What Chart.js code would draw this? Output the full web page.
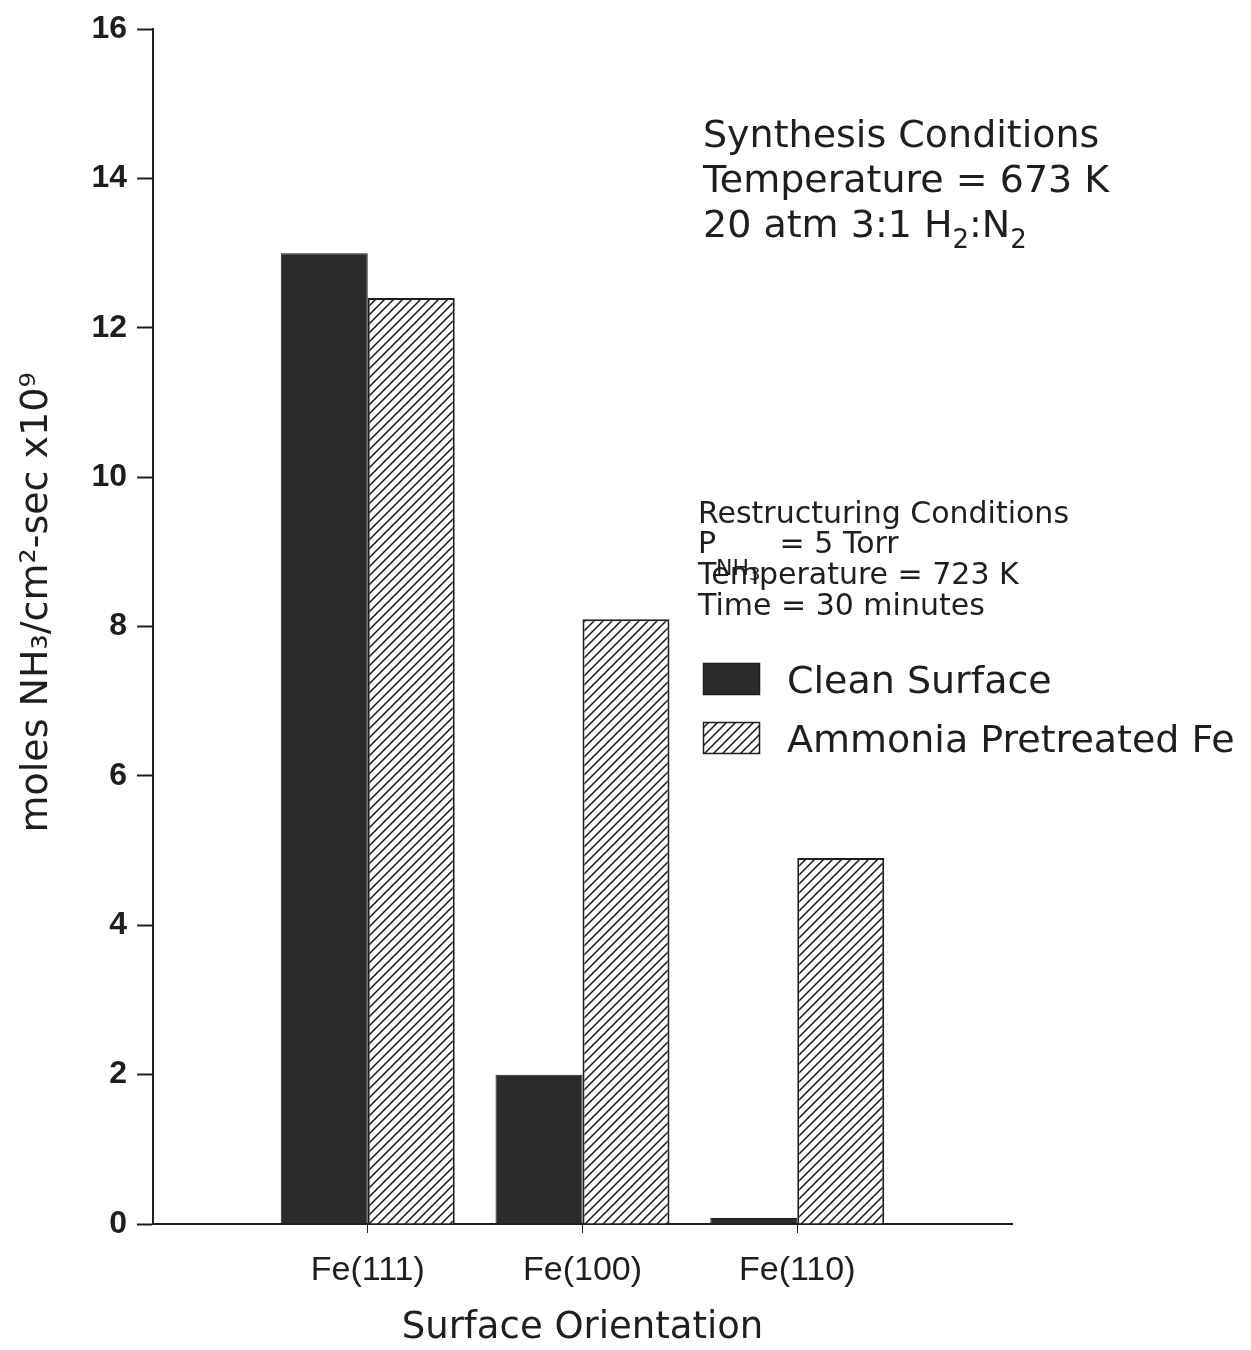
<!DOCTYPE html>
<html>
<head>
<meta charset="utf-8">
<script src="https://cdn.jsdelivr.net/npm/chart.js@4.4.1/dist/chart.umd.min.js"></script>
<style>
body { margin: 0; background: #fff; }
#wrap { width: 1251px; height: 1350px; position: relative; }
</style>
</head>
<body>
<div id="wrap"><canvas id="ammonia"></canvas></div>
<script>
// surfaces and synthesis rates (moles NH3 / cm2-sec x 10^9)
var surfaces = ['Fe(111)', 'Fe(100)', 'Fe(110)'];
var cleanRate = [13.0, 2.0, 0.08];
var pretreatedRate = [12.4, 8.1, 4.9];
var yTicks = [0, 2, 4, 6, 8, 10, 12, 14, 16];
var seriesNames = ['Clean Surface', 'Ammonia Pretreated Fe'];

// blank slot either side so the three groups sit where the original has them
var labels = [''].concat(surfaces, ['']);
function pad(arr) { return [null].concat(arr, [null]); }

function hatch() {
    var c = document.createElement('canvas');
    c.width = 9; c.height = 9;
    var g = c.getContext('2d');
    g.fillStyle = '#fff';
    g.fillRect(0, 0, 9, 9);
    g.strokeStyle = '#151515';
    g.lineWidth = 1.5;
    g.beginPath();
    g.moveTo(-1, 10); g.lineTo(10, -1);
    g.moveTo(-2, 2); g.lineTo(2, -2);
    g.moveTo(7, 11); g.lineTo(11, 7);
    g.stroke();
    return g.createPattern(c, 'repeat');
}
var hatchFill = hatch();
var ink = '#1e1e1e';

function writeRun(ctx, x, y, size, parts) {
    parts.forEach(function (p) {
        var s = p[1] || size, dy = p[2] || 0;
        ctx.font = s + 'px "DejaVu Sans"';
        ctx.fillText(p[0], x, y + dy);
        x += ctx.measureText(p[0]).width;
    });
}

var notes = {
    id: 'notes',
    afterDraw: function (chart) {
        var ctx = chart.ctx;
        ctx.save();
        ctx.fillStyle = ink;
        ctx.textBaseline = 'alphabetic';
        ctx.textAlign = 'left';

        // synthesis box
        writeRun(ctx, 703, 147, 38, [['Synthesis Conditions']]);
        writeRun(ctx, 703, 192, 38, [['Temperature = 673 K']]);
        writeRun(ctx, 703, 237, 38, [['20 atm 3:1 H'], ['2', 26, 11], [':N'], ['2', 26, 11]]);

        // restructuring box
        writeRun(ctx, 698, 523, 30, [['Restructuring Conditions']]);
        writeRun(ctx, 698, 553, 30, [['P'], ['NH', 22, 22], ['3', 18, 27], ['  = 5 Torr']]);
        writeRun(ctx, 698, 584, 30, [['Temperature = 723 K']]);
        writeRun(ctx, 698, 615, 30, [['Time = 30 minutes']]);

        // legend
        var ds = chart.data.datasets;
        var rows = [663, 722];
        ds.forEach(function (d, i) {
            ctx.fillStyle = d.backgroundColor;
            ctx.fillRect(703, rows[i], 57, 32);
            ctx.strokeStyle = ink;
            ctx.lineWidth = 1.5;
            ctx.strokeRect(703.5, rows[i] + 0.5, 56, 31);
            ctx.fillStyle = ink;
            writeRun(ctx, 787, rows[i] + 30, 38, [[d.label]]);
        });
        ctx.restore();
    }
};

var ctx = document.getElementById('ammonia');
var chart = new Chart(ctx, {
    type: 'bar',
    data: {
        labels: labels,
        datasets: [{
            label: seriesNames[0],
            data: pad(cleanRate),
            backgroundColor: '#2b2b2b',
            borderColor: ink,
            borderWidth: 1
        }, {
            label: seriesNames[1],
            data: pad(pretreatedRate),
            backgroundColor: hatchFill,
            borderColor: ink,
            borderWidth: 2
        }]
    },
    options: {
        responsive: true,
        maintainAspectRatio: false,
        animation: false,
        categoryPercentage: 0.81,
        barPercentage: 1.0,
        layout: { padding: { top: 28, right: 239, left: 0, bottom: 0 } },
        plugins: {
            legend: { display: false },
            tooltip: { enabled: false }
        },
        scales: {
            x: {
                offset: false,
                afterFit: function (s) { s.height = 126; },
                border: { display: true, color: ink, width: 2 },
                grid: {
                    offset: false,
                    drawOnChartArea: false,
                    drawTicks: true,
                    tickLength: 9,
                    tickWidth: 1,
                    tickColor: function (c) { return labels[c.index] ? ink : 'rgba(0,0,0,0)'; }
                },
                ticks: {
                    autoSkip: false,
                    maxRotation: 0,
                    padding: 17,
                    color: ink,
                    font: { family: '"Liberation Sans"', size: 34 }
                },
                title: {
                    display: true,
                    text: 'Surface Orientation',
                    color: ink,
                    font: { family: '"DejaVu Sans"', size: 37, lineHeight: 1.15 },
                    padding: { top: 0, bottom: 0 }
                }
            },
            y: {
                min: yTicks[0],
                max: yTicks[yTicks.length - 1],
                afterFit: function (s) { s.width = 153; },
                border: { display: true, color: ink, width: 2 },
                grid: {
                    drawOnChartArea: false,
                    drawTicks: true,
                    tickLength: 16,
                    tickWidth: 2,
                    tickColor: ink
                },
                ticks: {
                    stepSize: yTicks[1] - yTicks[0],
                    padding: 10,
                    color: ink,
                    font: { family: '"Liberation Sans Narrow", "Liberation Sans"', size: 32, weight: 'bold' }
                },
                title: {
                    display: true,
                    text: '    moles NH\u2083/cm\u00b2-sec x10\u2079',
                    color: ink,
                    font: { family: '"DejaVu Sans"', size: 38, lineHeight: 1.2 },
                    padding: { top: 14, bottom: 0 }
                }
            }
        }
    },
    plugins: [notes]
});
</script>
</body>
</html>
